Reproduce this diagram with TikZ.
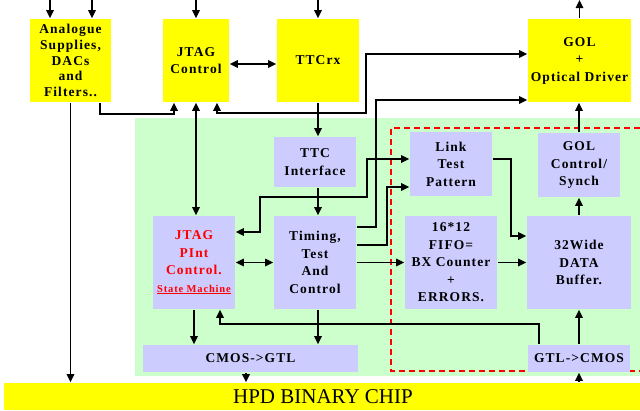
\documentclass[tikz,border=0pt]{standalone}
\usepackage{fontspec}
\setmainfont{Liberation Serif}
\newfontfamily\blockfont[LetterSpace=8]{Liberation Serif}
\usetikzlibrary{arrows.meta}
\definecolor{chipyellow}{HTML}{FFFF00}
\definecolor{boardgreen}{HTML}{CCFFCC}
\definecolor{blocklilac}{HTML}{CCCCFF}
\definecolor{textred}{HTML}{FF0000}

\begin{document}
\begin{tikzpicture}[x=1pt, y=-1pt, line width=1.6pt, line join=miter,
  >={Triangle[length=8pt,width=7.5pt]},
  yblock/.style={fill=chipyellow, inner sep=0pt, align=center,
    font=\blockfont\bfseries\fontsize{13.5}{17.5}\selectfont},
  lblock/.style={yblock, fill=blocklilac}]

  %% ════ background areas ════
  \fill[boardgreen] (135,118) rectangle (641,376);
  \draw[textred, dash pattern=on 6pt off 4pt] (650,128) -| (391,371) -- (650,371);

  %% ════ yellow blocks (top row) ════
  \node[yblock, minimum width=81, minimum height=83, font=\blockfont\bfseries\fontsize{13.5}{15.8}\selectfont] (ana) at (70.5,60.5) {Analogue\\Supplies,\\DACs\\and\\Filters..};
  \node[yblock, minimum width=66, minimum height=83] (jtagc) at (196,60.5) {JTAG\\Control};
  \node[yblock, minimum width=82, minimum height=83] (ttcrx) at (318,60.5) {TTCrx};
  \node[yblock, minimum width=103, minimum height=83] (gol) at (579.5,60.5) {GOL\\+\\Optical Driver};

  %% ════ lilac blocks ════
  \node[lblock, minimum width=82, minimum height=50] (ttci) at (315,162) {TTC\\Interface};
  \node[lblock, minimum width=82, minimum height=64] (link) at (451,164) {Link\\Test\\Pattern};
  \node[lblock, minimum width=82, minimum height=64] (golc) at (579,165) {GOL\\Control/\\Synch};
  \node[lblock, minimum width=82, minimum height=93, text=textred] (pint) at (194,262.5) {JTAG\\PInt\\Control.\\{\fontsize{10.5}{13}\selectfont\underline{State Machine}}};
  \node[lblock, minimum width=82, minimum height=93] (timing) at (315,262.5) {Timing,\\Test\\And\\Control};
  \node[lblock, minimum width=92, minimum height=93] (fifo) at (451,262.5) {16*12\\FIFO=\\BX Counter\\+\\ERRORS.};
  \node[lblock, minimum width=104, minimum height=93] (buf) at (579,262.5) {32Wide\\DATA\\Buffer.};
  \node[lblock, minimum width=215, minimum height=27] (cmos) at (250.5,358.5) {CMOS->GTL};
  \node[lblock, minimum width=102, minimum height=27] (gtl) at (579,358.5) {GTL->CMOS};

  %% ════ chip bar ════
  \node[fill=chipyellow, inner sep=0pt, minimum width=638, minimum height=27, font=\fontsize{21}{24}\selectfont] (hpd) at (323,396.5) {HPD BINARY CHIP};

  %% ════ free ends and bends ════
  \coordinate (inA) at (50,0);
  \coordinate (inB) at (92,0);
  \coordinate (inJ) at (196,0);
  \coordinate (inT) at (318,0);
  \coordinate (outG) at (580,0);
  \coordinate (bendA) at (366,113);
  \coordinate (bendB) at (376,100);
  \coordinate (bendC) at (260,197);
  \coordinate (bendD) at (367,197);
  \coordinate (bendE) at (387,245);
  \coordinate (bendF) at (511,236);
  \coordinate (bendG) at (539,324);

  %% ════ connectors ════
  \draw[->] (inA) -- (inA |- ana.north);
  \draw[->] (inB) -- (inB |- ana.north);
  \draw[->] (inJ) -- (inJ |- jtagc.north);
  \draw[->] (inT) -- (inT |- ttcrx.north);
  \draw[->] (gol.north) -- (gol.north |- outG);

  \draw[->] (ana.south) -- (ana.south |- hpd.north);
  \draw[->] ([xshift=29.5]ana.south) -- ++(0,11) -| ([xshift=-22]jtagc.south);
  \draw[<->] (jtagc.south) -- (jtagc.south |- pint.north);
  \draw[<->] ([xshift=21]jtagc.south) |- (bendA) |- ([yshift=6.5]gol.west);
  \draw[<->] ([yshift=-3.5]jtagc.east) -- ([yshift=-3.5]jtagc.east -| ttcrx.west);

  \draw[->] (ttcrx.south) -- (ttcrx.south |- ttci.north);
  \draw[->] (ttci.south -| ttcrx.south) -- (ttcrx.south |- timing.north);
  \draw[->] ([yshift=35.5]timing.east) -| (bendB) -- ([yshift=-39.5]gol.west);
  \draw[<->] ([yshift=30.5]pint.east) -| (bendC) -- (bendD) |- ([yshift=5]link.west);
  \draw[->] ([yshift=17.5]timing.east) -- (bendE) |- ([yshift=-23]link.west);
  \draw[<->] (pint.east) -- (timing.west);
  \draw[->] (timing.east) -- (fifo.west);
  \draw[->] (fifo.east) -- (buf.west);
  \draw[->] ([yshift=5]link.east) -| (bendF) -- ([yshift=26.5]buf.west);
  \draw[->] (buf.north) -- (golc.south);
  \draw[->] (golc.north) -- (golc.north |- gol.south);

  \draw[->] (pint.south) -- (pint.south |- cmos.north);
  \draw[->] ([xshift=3]timing.south) -- ([xshift=3]timing.south |- cmos.north);
  \draw[->] ([xshift=-4.5]cmos.south) -- ([xshift=-4.5]cmos.south |- hpd.north);
  \draw[->] ([xshift=-40]gtl.north) -- (bendG) -| ([xshift=26]pint.south);
  \draw[->] (gtl.north) -- (buf.south);
  \draw[->] (hpd.north -| gtl.south) -- (gtl.south);

  % fix the canvas to the reference size
  \pgfresetboundingbox
  \path[use as bounding box] (0,0) rectangle (640,410);
\end{tikzpicture}
\end{document}
